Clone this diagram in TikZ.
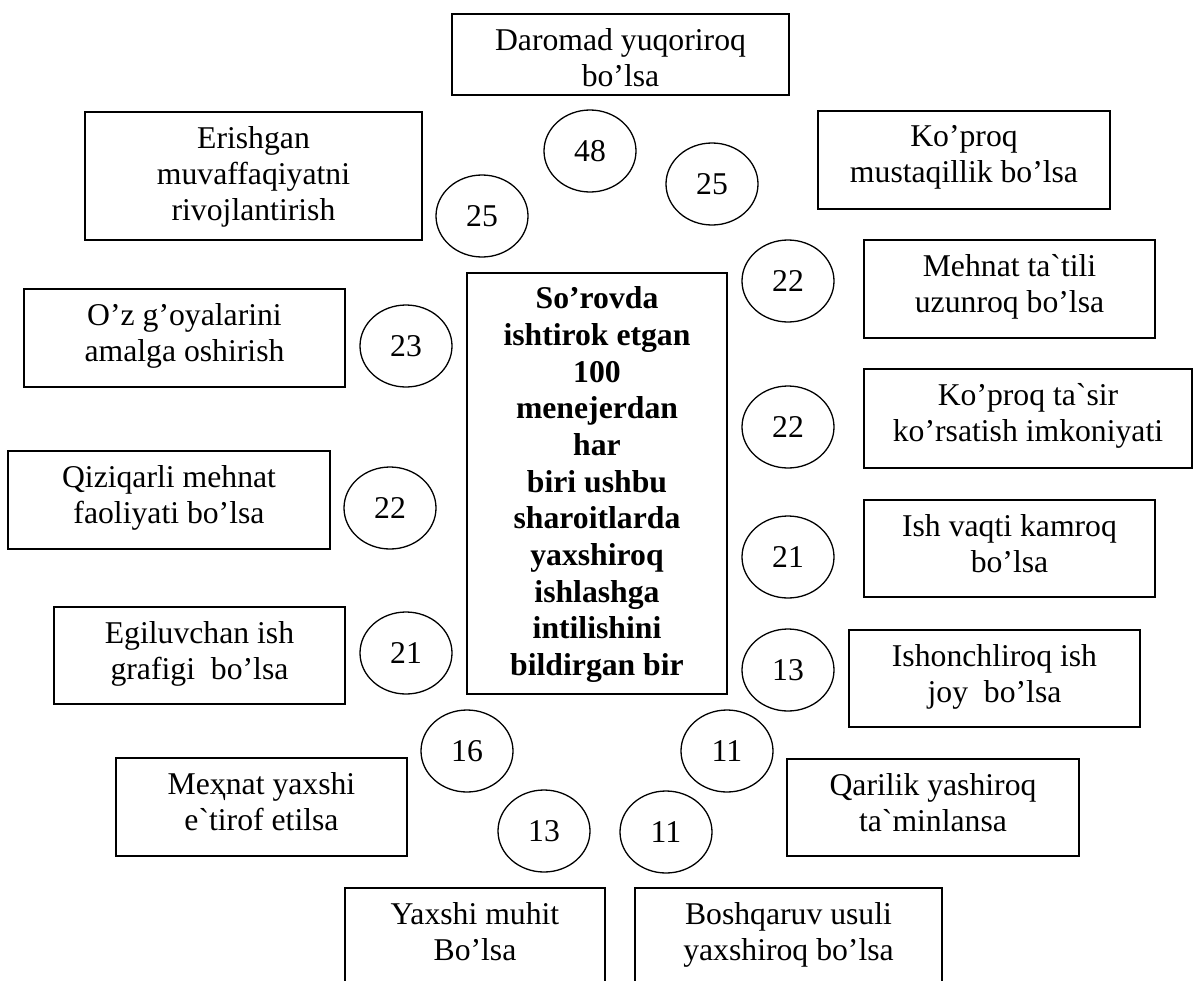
\documentclass[tikz,border=0pt]{standalone}
\usepackage{fontspec}
\newfontfamily\tnr{Liberation Serif}
\usetikzlibrary{shapes.geometric,fit}
\tikzset{
  box/.style={draw, rectangle, line width=1.8pt, inner sep=0pt},
  txt/.style={align=center, inner sep=0pt, anchor=north,
    font=\tnr\fontsize{31.7}{36}\selectfont, execute at begin node=\strut},
  ctxt/.style={align=center, inner sep=0pt, anchor=north,
    font=\tnr\bfseries\fontsize{31.7}{36.7}\selectfont, execute at begin node=\strut},
  num/.style={draw, ellipse, line width=1.3pt, minimum width=92pt, minimum height=82pt,
    inner sep=0pt, font=\tnr\fontsize{31.7}{36}\selectfont}
}
\begin{document}
\begin{tikzpicture}[x=1pt,y=-1pt]
\useasboundingbox (0,0) rectangle (1194,980);
\clip (0,0) rectangle (1194,980);

% boxes
\node[box, fit={(452,14)(789,95)}] (daromad) {};
\node[txt] (daromadt) at ([yshift=-14.8pt]daromad.north) {Daromad yuqoriroq\\bo’lsa};

\node[box, fit={(85,112)(422,240)}] (erish) {};
\node[txt] (erisht) at ([yshift=-14.8pt]erish.north) {Erishgan\\muvaffaqiyatni\\rivojlantirish};

\node[box, fit={(818,111)(1110,209)}] (mustaq) {};
\node[txt] (mustaqt) at ([yshift=-14.8pt]mustaq.north) {Ko’proq\\mustaqillik bo’lsa};

\node[box, fit={(864,240)(1155,338)}] (tatil) {};
\node[txt] (tatilt) at ([yshift=-14.8pt]tatil.north) {Mehnat ta`tili\\uzunroq bo’lsa};

\node[box, fit={(24,289)(345,387)}] (goya) {};
\node[txt] (goyat) at ([yshift=-14.8pt]goya.north) {O’z g’oyalarini\\amalga oshirish};

\node[box, fit={(864,369)(1192,468)}] (tasir) {};
\node[txt] (tasirt) at ([yshift=-14.8pt]tasir.north) {Ko’proq ta`sir\\ko’rsatish imkoniyati};

\node[box, fit={(8,451)(330,549)}] (qiziq) {};
\node[txt] (qiziqt) at ([yshift=-14.8pt]qiziq.north) {Qiziqarli mehnat\\faoliyati bo’lsa};

\node[box, fit={(864,500)(1155,597)}] (vaqt) {};
\node[txt] (vaqtt) at ([yshift=-14.8pt]vaqt.north) {Ish vaqti kamroq\\bo’lsa};

\node[box, fit={(54,607)(345,704)}] (egil) {};
\node[txt] (egilt) at ([yshift=-14.8pt]egil.north) {Egiluvchan ish\\grafigi\ \ bo’lsa};

\node[box, fit={(849,630)(1140,727)}] (ishonch) {};
\node[txt] (ishoncht) at ([yshift=-14.8pt]ishonch.north) {Ishonchliroq ish\\joy\ \ bo’lsa};

\node[box, fit={(116,758)(407,856)}] (mexnat) {};
\node[txt] (mexnatt) at ([yshift=-14.8pt]mexnat.north) {Meҳnat yaxshi\\e`tirof etilsa};

\node[box, fit={(787,759)(1079,856)}] (qarilik) {};
\node[txt] (qarilikt) at ([yshift=-14.8pt]qarilik.north) {Qarilik yashiroq\\ta`minlansa};

\node[box, fit={(345,888)(605,1000)}] (muhit) {};
\node[txt] (muhitt) at ([yshift=-14.8pt]muhit.north) {Yaxshi muhit\\Bo’lsa};

\node[box, fit={(635,888)(942,1000)}] (boshq) {};
\node[txt] (boshqt) at ([yshift=-14.8pt]boshq.north) {Boshqaruv usuli\\yaxshiroq bo’lsa};

% central box
\node[box, fit={(467,273)(727,694)}] (centre) {};
\begin{scope}
\clip (467,273) rectangle (727,682);
\node[ctxt] (centret) at ([yshift=-14.3pt]centre.north) {So’rovda\\ishtirok etgan\\100\\menejerdan\\har\\biri ushbu\\sharoitlarda\\yaxshiroq\\ishlashga\\intilishini\\bildirgan bir};
\end{scope}

% numbers
\node[num] (n48) at (590,151) {48};
\node[num] (n25a) at (482,216) {25};
\node[num] (n25b) at (712,184) {25};
\node[num] (n22a) at (788,281) {22};
\node[num] (n23) at (406,346) {23};
\node[num] (n22b) at (788,427) {22};
\node[num] (n22c) at (390,508) {22};
\node[num] (n21a) at (788,557) {21};
\node[num] (n21b) at (406,653) {21};
\node[num] (n13a) at (788,670) {13};
\node[num] (n16) at (467,751) {16};
\node[num] (n11a) at (727,751) {11};
\node[num] (n13b) at (544,831) {13};
\node[num] (n11b) at (666,832) {11};
\end{tikzpicture}
\end{document}
